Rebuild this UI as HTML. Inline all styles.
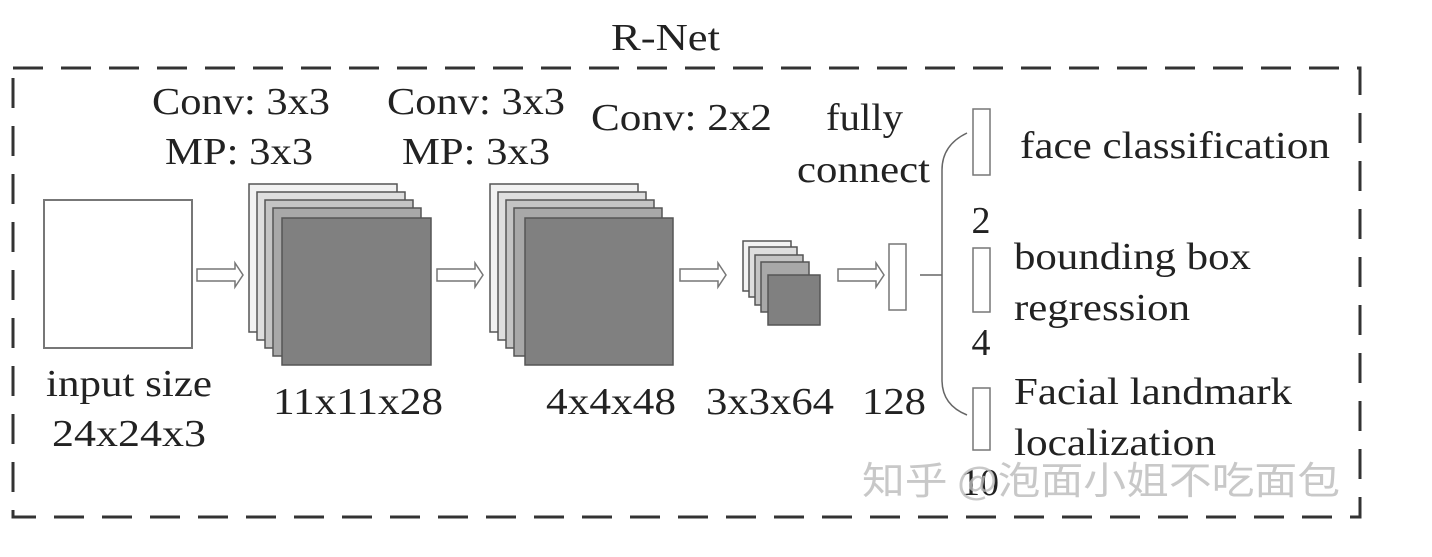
<!DOCTYPE html>
<html><head><style>
body{margin:0;background:#fff;}
svg text{font-family:"Liberation Serif",serif;fill:#222;}
</style></head><body>
<svg width="1432" height="552" viewBox="0 0 1432 552" xmlns="http://www.w3.org/2000/svg">
<rect x="13" y="68" width="1347" height="449" fill="none" stroke="#333" stroke-width="3" stroke-dasharray="30,18"/>
<text x="611" y="50" font-size="38" textLength="109" lengthAdjust="spacingAndGlyphs">R-Net</text>
<rect x="44" y="200" width="148" height="148" fill="#fff" stroke="#777" stroke-width="2"/>
<g stroke="#555" stroke-width="1.5">
<rect x="249" y="184" width="148" height="148" fill="#f2f2f2"/>
<rect x="257" y="192" width="148" height="148" fill="#dedede"/>
<rect x="265" y="200" width="148" height="148" fill="#c4c4c4"/>
<rect x="273" y="208" width="148" height="148" fill="#a8a8a8"/>
<rect x="282" y="218" width="149" height="147" fill="#808080"/>
<rect x="490" y="184" width="148" height="148" fill="#f2f2f2"/>
<rect x="498" y="192" width="148" height="148" fill="#dedede"/>
<rect x="506" y="200" width="148" height="148" fill="#c4c4c4"/>
<rect x="514" y="208" width="148" height="148" fill="#a8a8a8"/>
<rect x="525" y="218" width="148" height="147" fill="#808080"/>
<rect x="743" y="241" width="48" height="50" fill="#f2f2f2"/>
<rect x="749" y="247" width="48" height="50" fill="#dedede"/>
<rect x="755" y="255" width="48" height="50" fill="#c4c4c4"/>
<rect x="761" y="262" width="48" height="50" fill="#a8a8a8"/>
<rect x="768" y="275" width="52" height="50" fill="#808080"/>
</g>
<g fill="#fff" stroke="#777" stroke-width="1.5">
<path d="M197 269 H235 V263 L243 275 L235 287 V281 H197 Z"/>
<path d="M437 269 H475 V263 L483 275 L475 287 V281 H437 Z"/>
<path d="M680 269 H718 V263 L726 275 L718 287 V281 H680 Z"/>
<path d="M838 269 H876 V263 L884 275 L876 287 V281 H838 Z"/>
<rect x="889" y="244" width="17" height="66"/>
<rect x="973" y="109" width="17" height="66"/>
<rect x="973" y="248" width="17" height="64"/>
<rect x="973" y="388" width="17" height="62"/>
</g>
<g fill="none" stroke="#666" stroke-width="1.5">
<line x1="920" y1="275" x2="942" y2="275"/>
<path d="M967 133 Q942 145 942 170 V380 Q942 405 967 415"/>
</g>
<g font-size="38" lengthAdjust="spacingAndGlyphs">
<text x="152" y="114" textLength="178" lengthAdjust="spacingAndGlyphs">Conv: 3x3</text>
<text x="165" y="164" textLength="148" lengthAdjust="spacingAndGlyphs">MP: 3x3</text>
<text x="387" y="114" textLength="178" lengthAdjust="spacingAndGlyphs">Conv: 3x3</text>
<text x="402" y="164" textLength="148" lengthAdjust="spacingAndGlyphs">MP: 3x3</text>
<text x="591" y="130" textLength="181" lengthAdjust="spacingAndGlyphs">Conv: 2x2</text>
<text x="826" y="130" textLength="77" lengthAdjust="spacingAndGlyphs">fully</text>
<text x="797" y="182" textLength="133" lengthAdjust="spacingAndGlyphs">connect</text>
<text x="46" y="396" textLength="166" lengthAdjust="spacingAndGlyphs">input size</text>
<text x="52" y="446" textLength="154" lengthAdjust="spacingAndGlyphs">24x24x3</text>
<text x="273" y="414" textLength="170" lengthAdjust="spacingAndGlyphs">11x11x28</text>
<text x="546" y="414" textLength="130" lengthAdjust="spacingAndGlyphs">4x4x48</text>
<text x="706" y="414" textLength="128" lengthAdjust="spacingAndGlyphs">3x3x64</text>
<text x="862" y="414" textLength="64" lengthAdjust="spacingAndGlyphs">128</text>
<text x="1020" y="158" textLength="310" lengthAdjust="spacingAndGlyphs">face classification</text>
<text x="981" y="233" text-anchor="middle">2</text>
<text x="1014" y="269" textLength="237" lengthAdjust="spacingAndGlyphs">bounding box</text>
<text x="1014" y="320" textLength="176" lengthAdjust="spacingAndGlyphs">regression</text>
<text x="981" y="355" text-anchor="middle">4</text>
<text x="1014" y="404" textLength="278" lengthAdjust="spacingAndGlyphs">Facial landmark</text>
<text x="1014" y="455" textLength="202" lengthAdjust="spacingAndGlyphs">localization</text>
<text x="980" y="495" text-anchor="middle">10</text>
</g>
<text x="862" y="494" font-size="38" textLength="478" lengthAdjust="spacingAndGlyphs" style="font-family:'Noto Sans CJK SC',sans-serif;fill:#bbb;opacity:0.8">知乎 @泡面小姐不吃面包</text>
</svg>
</body></html>
